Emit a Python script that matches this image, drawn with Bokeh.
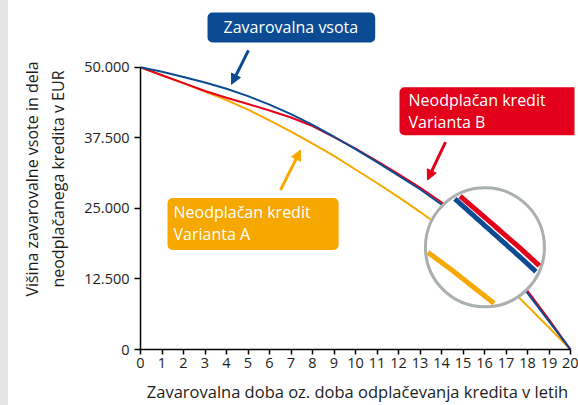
import numpy as np
from bokeh.plotting import figure
from bokeh.layouts import row
from bokeh.models import Range1d, FixedTicker, Label, Arrow, NormalHead, Div
from bokeh.embed import file_html
from bokeh.resources import INLINE

# ---- data ----
years = list(range(21))
insured_sum = [50000, 49200, 48300, 47300, 46200, 44900, 43400, 41700, 39800, 37700,
               35500, 33200, 30800, 28400, 25700, 22300, 18800, 14800, 10000, 5000, 0]
loan_b = [50000, 48600, 47200, 45800, 44600, 43500, 42350, 41100, 39600, 37650,
          35600, 33400, 31100, 28700, 26100, 22800, 19300, 15200, 10400, 5300, 0]
loan_a = [50000, 48600, 47200, 45700, 44200, 42500, 40600, 38600, 36500, 34300,
          31900, 29500, 27000, 24400, 21600, 18600, 15200, 11500, 7700, 3900, 0]
x_ticks = list(range(21))
y_ticks = [0, 12500, 25000, 37500, 50000]
y_tick_labels = ["0", "12.500", "25.000", "37.500", "50.000"]

BLUE = "#0a4b93"
RED = "#e2001a"
ORANGE = "#f6a800"
TEXT = "#1d1d1b"
FONT = "Open Sans"

# ---- layout ----
STRIPE = 8
W, H = 578 - STRIPE, 405
ML, MR, MT, MB = 132, 4, 8, 55
frame_w = W - ML - MR
frame_h = H - MT - MB
kx = 21.5            # px per year
ky = 283 / 50000     # px per EUR
x_end = frame_w / kx
y_end = frame_h / ky

p = figure(width=W, height=H, x_range=Range1d(0, x_end), y_range=Range1d(0, y_end),
           output_backend="svg", toolbar_location=None,
           min_border_left=ML, min_border_right=MR, min_border_top=MT, min_border_bottom=MB,
           margin=0)
p.outline_line_color = None
p.xgrid.visible = False
p.ygrid.visible = False
p.background_fill_color = "white"
p.border_fill_color = "white"

# axes
xa = p.xaxis[0]
xa.ticker = FixedTicker(ticks=x_ticks)
xa.bounds = (0, 20)
xa.minor_tick_line_color = None
xa.major_tick_in = 0
xa.major_tick_out = 5
xa.major_label_standoff = 3
xa.axis_line_color = "black"
xa.major_tick_line_color = "black"
xa.axis_line_width = 1.5
xa.major_tick_line_width = 1.5
xa.major_label_text_font = FONT
xa.major_label_text_font_size = "14.5px"
xa.major_label_text_color = TEXT
xa.axis_label = "Zavarovalna doba oz. doba odplačevanja kredita v letih"
xa.axis_label_text_font = FONT
xa.axis_label_text_font_size = "16.5px"
xa.axis_label_text_font_style = "normal"
xa.axis_label_text_color = TEXT
xa.axis_label_standoff = 9

ya = p.yaxis[0]
ya.ticker = FixedTicker(ticks=y_ticks)
ya.major_label_overrides = dict(zip(y_ticks, y_tick_labels))
ya.bounds = (0, 50000)
ya.minor_tick_line_color = None
ya.major_tick_in = 0
ya.major_tick_out = 6
ya.major_label_standoff = 5
ya.axis_line_color = "black"
ya.major_tick_line_color = "black"
ya.axis_line_width = 1.5
ya.major_tick_line_width = 1.5
ya.major_label_text_font = FONT
ya.major_label_text_font_size = "14.5px"
ya.major_label_text_color = TEXT
ya.axis_label = "Višina zavarovalne vsote in dela\nneodplačanega kredita v EUR"
ya.axis_label_text_font = FONT
ya.axis_label_text_font_size = "16px"
ya.axis_label_text_font_style = "normal"
ya.axis_label_text_color = TEXT
ya.axis_label_standoff = 12

# main curves
p.line(years, loan_a, line_color=ORANGE, line_width=2)
p.line(years, loan_b, line_color=RED, line_width=2)
p.line(years, insured_sum, line_color=BLUE, line_width=2)

# ---- magnifier lens ----
lens_x, lens_y = 16.02, 18100     # lens centre (data)
src_x, src_y = 14.5, 22800        # magnified point (data)
MAG = 3.2
R = 59.5                          # lens radius, px

p.scatter([lens_x], [lens_y], size=2 * R, marker="circle", fill_color="white",
          line_color="#a9b0ae", line_width=3)

def magnified(xs, ys):
    xs = np.asarray(xs, float)
    ys = np.asarray(ys, float)
    px, py = [], []
    for i in range(len(xs) - 1):
        t = np.linspace(0, 1, 80)
        px.append(xs[i] + (xs[i + 1] - xs[i]) * t)
        py.append(ys[i] + (ys[i + 1] - ys[i]) * t)
    px = np.concatenate(px)
    py = np.concatenate(py)
    du = (px - src_x) * kx * MAG
    dv = (py - src_y) * ky * MAG
    inside = du ** 2 + dv ** 2 <= (R - 2) ** 2
    return lens_x + du[inside] / kx, lens_y + dv[inside] / ky

for series, col in ((loan_a, ORANGE), (loan_b, RED), (insured_sum, BLUE)):
    mx, my = magnified(years, series)
    p.line(mx, my, line_color=col, line_width=5, line_cap="butt")

# ---- callouts ----
def px2x(px):
    return (px - STRIPE - ML) / kx

def py2y(py):
    return (H - MB - py) / ky

def box(text, left, top, color, pad):
    lab = Label(x=px2x(left), y=py2y(top), text=text, text_align="left", text_baseline="top",
                text_color="white", text_font=FONT, text_font_size="16px", text_line_height=1.0,
                background_fill_color=color, border_radius=5,
                padding=pad)
    p.add_layout(lab)

box("Zavarovalna vsota", 207, 12, BLUE, dict(left=16, right=17, top=4, bottom=4))
box("Neodplačan kredit\nVarianta B", 399, 87, RED, dict(left=9, right=33, top=2, bottom=2))
box("Neodplačan kredit\nVarianta A", 167, 198, ORANGE, dict(left=6, right=28, top=3, bottom=5))

def arrow(x0, y0, x1, y1, color):
    p.add_layout(Arrow(end=NormalHead(size=10, fill_color=color, line_color=color),
                       x_start=px2x(x0), y_start=py2y(y0), x_end=px2x(x1), y_end=py2y(y1),
                       line_color=color, line_width=3))

arrow(248, 50, 231, 84, BLUE)
arrow(445, 142, 427, 180, RED)
arrow(280, 190, 300, 150, ORANGE)

stripe = Div(width=STRIPE, height=H, margin=0, styles={"background-color": "#e4e5e5"})
layout = row(stripe, p, spacing=0)

open("out.html", "w").write(file_html(layout, INLINE))
